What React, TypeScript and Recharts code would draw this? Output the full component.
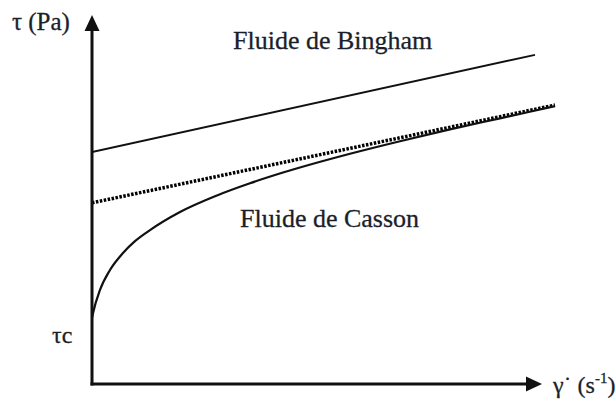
import React from 'react';
import { LineChart, Line, XAxis, YAxis, ReferenceLine } from 'recharts';

// shear rate (x) vs shear stress (y), arbitrary units
const binghamPoints = [
  { x: 0, y: 62.9 },
  { x: 88.6, y: 89.2 },
];

const cassonAsymptote = [
  { x: 0, y: 49.1 },
  { x: 92.6, y: 75.6 },
];

const cassonPoints = [
  { x: 0, y: 17.9 },
  { x: 0.2, y: 19.2 },
  { x: 1.6, y: 25.5 },
  { x: 3.6, y: 30.9 },
  { x: 6.2, y: 35.5 },
  { x: 8.6, y: 38.7 },
  { x: 11.6, y: 41.7 },
  { x: 17.6, y: 46.6 },
  { x: 25, y: 51.1 },
  { x: 31.6, y: 54.4 },
  { x: 38.2, y: 57.3 },
  { x: 51.6, y: 62.4 },
  { x: 61.6, y: 65.8 },
  { x: 71.6, y: 69.0 },
  { x: 81.6, y: 72.0 },
  { x: 92.6, y: 75.3 },
];

const yAxisSegment = [{ x: 0, y: 0 }, { x: 0, y: 100 }];
const xAxisSegment = [{ x: 0, y: 0 }, { x: 90, y: 0 }];

const INK = '#111';
const TEXT = '#1b1f2c';
const SERIF = '"Liberation Serif", "Times New Roman", serif';

const Arrow = (props: any) => {
  const { x1, y1, x2, y2 } = props;
  const dx = x2 - x1;
  const dy = y2 - y1;
  const len = Math.hypot(dx, dy) || 1;
  const ux = dx / len;
  const uy = dy / len;
  const L = 16;
  const W = 7.5;
  const bx = x2 - ux * L;
  const by = y2 - uy * L;
  const pts = [
    `${x2},${y2}`,
    `${bx - uy * W},${by + ux * W}`,
    `${bx + uy * W},${by - ux * W}`,
  ].join(' ');
  return (
    <g>
      <line x1={x1} y1={y1} x2={bx + ux * 2} y2={by + uy * 2} stroke={INK} strokeWidth={3} strokeLinecap="square" />
      <polygon points={pts} fill={INK} />
    </g>
  );
};

export default function App() {
  return (
    <div style={{ position: 'absolute', left: 0, top: 0, width: 616, height: 399, background: '#fff' }}>
      <LineChart width={616} height={399} margin={{ top: 15, right: 24, bottom: 15, left: 92 }}>
        <XAxis type="number" dataKey="x" domain={[0, 100]} hide allowDataOverflow />
        <YAxis type="number" dataKey="y" domain={[0, 100]} hide allowDataOverflow />
        <Line
          data={binghamPoints}
          dataKey="y"
          type="linear"
          stroke={INK}
          strokeWidth={2}
          dot={false}
          isAnimationActive={false}
        />
        <Line
          data={cassonAsymptote}
          dataKey="y"
          type="linear"
          stroke="#000"
          strokeWidth={3.5}
          strokeDasharray="2.5 1.5"
          dot={false}
          isAnimationActive={false}
        />
        <Line
          data={cassonPoints}
          dataKey="y"
          type="monotone"
          stroke={INK}
          strokeWidth={2.2}
          dot={false}
          isAnimationActive={false}
        />
        <ReferenceLine segment={yAxisSegment} ifOverflow="visible" shape={Arrow} />
        <ReferenceLine segment={xAxisSegment} ifOverflow="visible" shape={Arrow} />
      </LineChart>
      <svg
        width={616}
        height={399}
        style={{ position: 'absolute', left: 0, top: 0, pointerEvents: 'none' }}
        fontFamily={SERIF}
        fill={TEXT}
        stroke={TEXT}
        strokeWidth={0.3}
      >
        <text x={12} y={30} fontSize={25}>τ (Pa)</text>
        <text x={233} y={49} fontSize={26}>Fluide de Bingham</text>
        <text x={240} y={227} fontSize={26}>Fluide de Casson</text>
        <text x={52} y={343} fontSize={24}>τc</text>
        <text x={553} y={393} fontSize={24}>
          γ˙ (s<tspan fontSize={15} dy={-10}>-1</tspan><tspan dy={10}>)</tspan>
        </text>
      </svg>
    </div>
  );
}
